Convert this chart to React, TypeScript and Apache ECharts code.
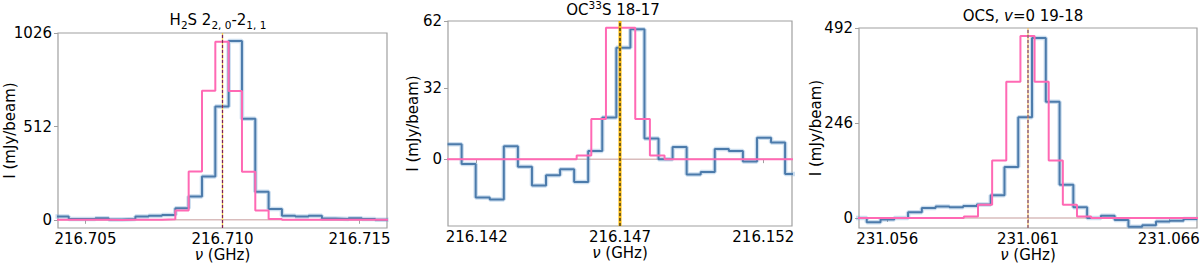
import React, { useEffect, useRef } from 'react';
import * as echarts from 'echarts';

// ---------- Panel 1: H2S 2(2,0)-2(1,1) ----------
const H2S_CHAN0 = 216.703906; // GHz, left edge of first channel
const H2S_DCHAN = 0.000486;
const H2S_OBS = [18, 5, 5, 9, 2, 5, 18, 22, 27, 64, 128, 238, 623, 982, 555, 154, 59, 22, 18, 22, 7, 5, 9, 5, 0];
const H2S_MODEL_CHAN0 = 216.703906;
const H2S_MODEL_DCHAN = 0.000486;
const H2S_MODEL = [0, 0, 0, 0, -1, 0, 0, 0, 3, 51, 265, 709, 978, 707, 264, 51, 5, 0, 0, 0, 0, 0, 0, 0, 0];
const H2S_XRANGE = [216.704, 216.716];
const H2S_YRANGE = [-45, 1026];
const H2S_XTICKS = [216.705, 216.71, 216.715];
const H2S_YTICKS = [0, 512, 1026];
const H2S_REST = 216.71;

// ---------- Panel 2: OC33S 18-17 ----------
const OC33S_CHAN0 = 216.140985;
const OC33S_DCHAN = 0.0004906;
const OC33S_OBS = [6.7, -2.2, -17.2, -18.1, 5.8, -3.4, -11.8, -7.2, -4.5, -10.2, 3.7, 18.7, 50, 58.3, 9.3, 0, 5.4, -6.9, -5.8, 4.6, 3.7, -1, 9.6, 7.5, -6.7];
const OC33S_MODEL_CHAN0 = 216.140889;
const OC33S_MODEL_DCHAN = 0.000511;
const OC33S_MODEL = [0, 0, 0, 0, 0, 0, 0, 0, 0, 1.6, 18, 59, 59, 18, 1.6, 0, 0, 0, 0, 0, 0, 0, 0, 0];
const OC33S_XRANGE = [216.141, 216.153];
const OC33S_YRANGE = [-30, 62];
const OC33S_XTICKS = [216.142, 216.147, 216.152];
const OC33S_YTICKS = [0, 32, 62];
const OC33S_REST = 216.147;

// ---------- Panel 3: OCS v=0 19-18 ----------
const OCS_CHAN0 = 231.054786;
const OCS_DCHAN = 0.000489;
const OCS_OBS = [0, -11, -4, 0, 15, 26, 30, 28, 31, 35, 59, 132, 261, 466, 301, 86, 28, 0, 6, -5, -23, -19, -9, -7, -3];
const OCS_MODEL_CHAN0 = 231.054707;
const OCS_MODEL_DCHAN = 0.000502;
const OCS_MODEL = [0, 0, 0, 0, 0, 0, 0, 0, 4, 34, 149, 353, 471, 353, 149, 34, 4, 0, 0, 0, 0, 0, 0, 0, 0];
const OCS_XRANGE = [231.055, 231.067];
const OCS_YRANGE = [-26, 492];
const OCS_XTICKS = [231.056, 231.061, 231.066];
const OCS_YTICKS = [0, 246, 492];
const OCS_REST = 231.061;

const FONT = "'DejaVu Sans', 'Noto Sans', sans-serif";
const BLUE = '#4c7bab';
const PINK = '#ff69b4';

function steps(chan0: number, dchan: number, vals: number[]) {
  const pts: number[][] = vals.map((v, i) => [chan0 + i * dchan, v]);
  pts.push([chan0 + vals.length * dchan, vals[vals.length - 1]]);
  return pts;
}

interface PanelCfg {
  grid: { left: number; top: number; width: number; height: number };
  obs: number[][];
  model: number[][];
  xr: number[];
  yr: number[];
  xt: number[];
  yt: number[];
  rest: number;
  nameGap: number;
  restUnder: string;
  restUnderW: number;
  restDash: string;
}

const PANELS: PanelCfg[] = [
  {
    grid: { left: 58, top: 33, width: 329, height: 195 },
    obs: steps(H2S_CHAN0, H2S_DCHAN, H2S_OBS),
    model: steps(H2S_MODEL_CHAN0, H2S_MODEL_DCHAN, H2S_MODEL),
    xr: H2S_XRANGE, yr: H2S_YRANGE, xt: H2S_XTICKS, yt: H2S_YTICKS, rest: H2S_REST,
    nameGap: 41, restUnder: '#f2c94c', restUnderW: 1.3, restDash: '#7e1f5e',
  },
  {
    grid: { left: 448, top: 21, width: 344, height: 205 },
    obs: steps(OC33S_CHAN0, OC33S_DCHAN, OC33S_OBS),
    model: steps(OC33S_MODEL_CHAN0, OC33S_MODEL_DCHAN, OC33S_MODEL),
    xr: OC33S_XRANGE, yr: OC33S_YRANGE, xt: OC33S_XTICKS, yt: OC33S_YTICKS, rest: OC33S_REST,
    nameGap: 28, restUnder: '#f7b500', restUnderW: 3, restDash: '#222222',
  },
  {
    grid: { left: 859, top: 28, width: 338, height: 200 },
    obs: steps(OCS_CHAN0, OCS_DCHAN, OCS_OBS),
    model: steps(OCS_MODEL_CHAN0, OCS_MODEL_DCHAN, OCS_MODEL),
    xr: OCS_XRANGE, yr: OCS_YRANGE, xt: OCS_XTICKS, yt: OCS_YTICKS, rest: OCS_REST,
    nameGap: 36, restUnder: '#f5c26b', restUnderW: 1.3, restDash: '#7a4a7e',
  },
];

const richBase = {
  n: { fontSize: 15, fontFamily: FONT, color: '#000', lineHeight: 22, verticalAlign: 'middle' },
  i: { fontSize: 15, fontFamily: FONT, color: '#000', lineHeight: 22, verticalAlign: 'middle', fontStyle: 'italic' },
  sub: { fontSize: 10.5, fontFamily: FONT, color: '#000', lineHeight: 15, verticalAlign: 'bottom' },
  sup: { fontSize: 10.5, fontFamily: FONT, color: '#000', lineHeight: 16, verticalAlign: 'top' },
};

const TITLES = [
  { text: '{n|H}{sub|2}{n|S 2}{sub|2, 0}{n|-2}{sub|1, 1}', x: 218, y: 19.5 },
  { text: '{n|OC}{sup|33}{n|S 18-17}', x: 613, y: 10 },
  { text: '{n|OCS, }{i|v}{n|=0 19-18}', x: 1023, y: 15.5 },
];

function buildOption() {
  const grid: any[] = [];
  const xAxis: any[] = [];
  const yAxis: any[] = [];
  const series: any[] = [];
  PANELS.forEach((p, k) => {
    grid.push({ ...p.grid, show: true, borderColor: '#a0a0a0', borderWidth: 1.2, backgroundColor: 'transparent', outerBoundsMode: 'none', containLabel: false });
    xAxis.push({
      type: 'value', gridIndex: k, min: p.xr[0], max: p.xr[1],
      name: '{i|ν}{n| (GHz)}', nameLocation: 'middle', nameGap: 19, nameMoveOverlap: false,
      nameTextStyle: {
        fontSize: 15, fontFamily: FONT, color: '#000', lineHeight: 15,
        rich: {
          i: { fontSize: 15, fontFamily: FONT, color: '#000', fontStyle: 'italic', lineHeight: 15 },
          n: { fontSize: 15, fontFamily: FONT, color: '#000', lineHeight: 15 },
        },
      },
      axisLine: { show: false },
      splitLine: { show: false },
      axisTick: { show: true, inside: false, length: 4, customValues: p.xt, lineStyle: { color: '#a0a0a0', width: 1 } },
      axisLabel: { customValues: p.xt, margin: 3, lineHeight: 15, fontSize: 15, fontFamily: FONT, color: '#000', formatter: (v: number) => v.toFixed(3), hideOverlap: false },
    });
    yAxis.push({
      type: 'value', gridIndex: k, min: p.yr[0], max: p.yr[1],
      name: 'I (mJy/beam)', nameLocation: 'middle', nameGap: p.nameGap, nameMoveOverlap: false,
      nameTextStyle: { fontSize: 15, fontFamily: FONT, color: '#000', lineHeight: 15 },
      axisLine: { show: false },
      splitLine: { show: false },
      axisTick: { show: true, inside: false, length: 4, customValues: p.yt, lineStyle: { color: '#a0a0a0', width: 1 } },
      axisLabel: { customValues: p.yt, margin: 6, fontSize: 15, fontFamily: FONT, color: '#000', formatter: (v: number) => String(Math.round(v)), hideOverlap: false },
    });
    const common = { type: 'line', xAxisIndex: k, yAxisIndex: k, symbol: 'none', silent: true, animation: false, clip: true };
    series.push({ ...common, z: 1, data: [[p.xr[0], 0], [p.xr[1], 0]], lineStyle: { color: '#d9bcbc', width: 1.5 } });
    series.push({ ...common, z: 2, step: 'end', data: p.obs, lineStyle: { color: 'rgba(110,160,210,0.35)', width: 4.5 } });
    series.push({ ...common, z: 3, step: 'end', data: p.obs, lineStyle: { color: BLUE, width: 2 } });
    series.push({ ...common, z: 4, step: 'end', data: p.model, lineStyle: { color: PINK, width: 2 } });
    series.push({ ...common, z: 5, data: [[p.rest, p.yr[0]], [p.rest, p.yr[1]]], lineStyle: { color: p.restUnder, width: p.restUnderW } });
    series.push({ ...common, z: 6, data: [[p.rest, p.yr[0]], [p.rest, p.yr[1]]], lineStyle: { color: p.restDash, width: 1.2, type: [3, 2] } });
  });
  const graphic = TITLES.map((t) => ({
    type: 'text', x: t.x, y: t.y, silent: true,
    style: { text: t.text, rich: richBase, align: 'center', verticalAlign: 'middle', fontSize: 15, fontFamily: FONT, fill: '#000' },
  }));
  return { animation: false, backgroundColor: '#fff', grid, xAxis, yAxis, series, graphic };
}

export default function App() {
  const ref = useRef<HTMLDivElement>(null);
  useEffect(() => {
    if (!ref.current) return;
    const chart = echarts.init(ref.current, undefined, { renderer: 'svg' });
    chart.setOption(buildOption() as any);
    return () => chart.dispose();
  }, []);
  return <div ref={ref} style={{ position: 'absolute', left: 0, top: 0, width: 1200, height: 263, background: '#fff' }} />;
}
